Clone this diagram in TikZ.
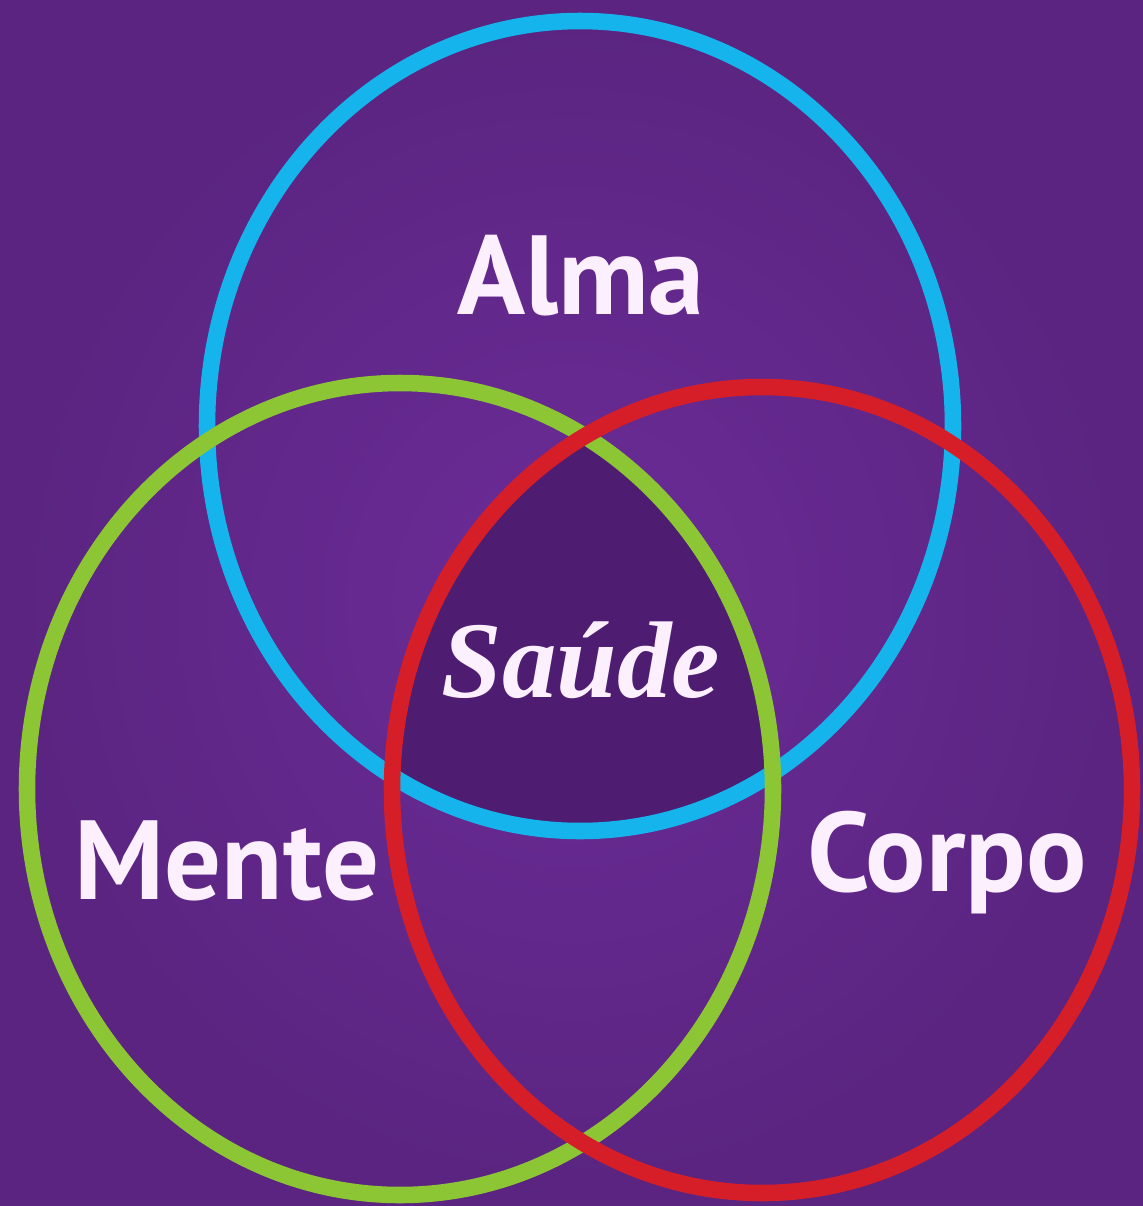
\documentclass[tikz,border=0pt]{standalone}
\usepackage{fontspec}
\newfontfamily\ringfont{PT Sans}
\newfontfamily\saudefont{Liberation Serif}
\usetikzlibrary{positioning}
\definecolor{bgin}{RGB}{108,44,152}
\definecolor{bgout}{RGB}{90,36,128}
\definecolor{core}{RGB}{78,28,112}
\definecolor{almablue}{RGB}{22,180,236}
\definecolor{mentegreen}{RGB}{141,198,52}
\definecolor{corpored}{RGB}{214,30,40}
\definecolor{inkwhite}{RGB}{252,240,255}

\begin{document}
\begin{tikzpicture}[x=0.01cm,y=-0.01cm,
  ring/.style={line width=4.7pt},
  word/.style={text=inkwhite,font=\ringfont\bfseries\fontsize{32}{32}\selectfont,inner sep=0pt}]
	% Background
	\useasboundingbox (0,0) rectangle (1143,1206);
	\shade[inner color=bgin, outer color=bgout] (0,0) rectangle (1143,1206);
	
	% Common area of the three rings
	\begin{scope}
		\clip (580,426) ellipse (373 and 405);
		\clip (400,789) ellipse (373 and 406);
		\fill[core] (762,790) ellipse (370 and 403);
	\end{scope}
	
	% Rings
	\draw[ring, almablue] (580,426) ellipse (373 and 405);
	\draw[ring, mentegreen] (400,789) ellipse (373 and 406);
	\draw[ring, corpored] (762,790) ellipse (370 and 403);
	
	% Labels
	\node[word] (alma) at (581,276) {Alma};
	\node[word] (mente) at (227,861) {Mente};
	\node[word] (corpo) at (947,863) {Corpo};
	\node[text=inkwhite, font=\saudefont\bfseries\itshape\fontsize{31}{31}\selectfont, inner sep=0pt] (saude) at (581,660) {Saúde};
\end{tikzpicture}
\end{document}
